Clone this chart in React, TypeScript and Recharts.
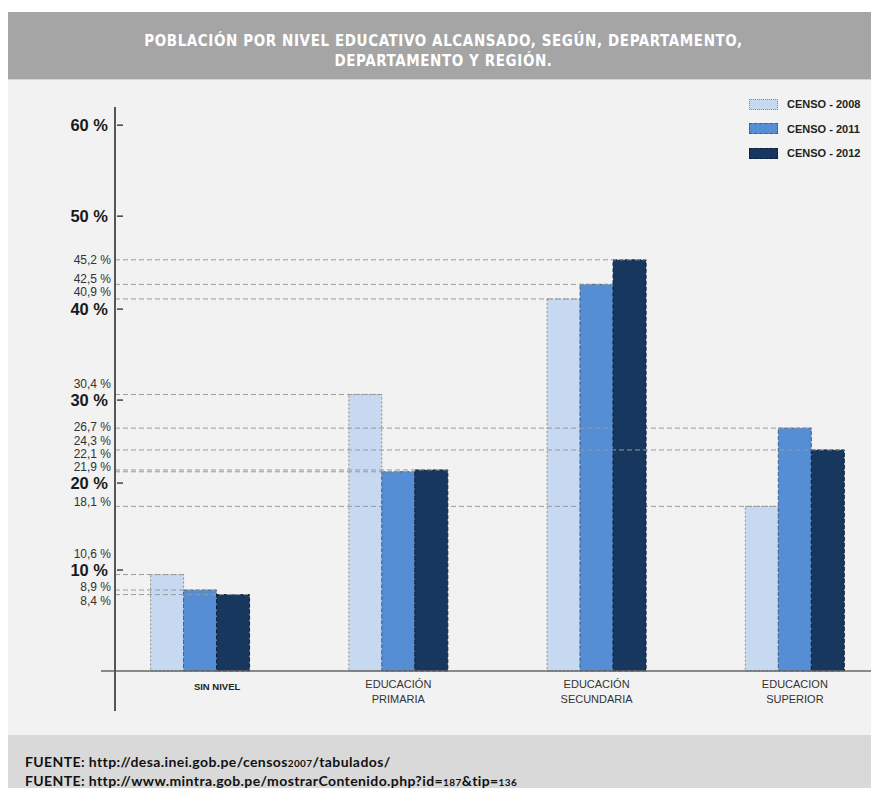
import { BarChart, Bar, XAxis, YAxis } from "recharts";

const CATEGORIES = ["SIN NIVEL", "EDUCACIÓN\nPRIMARIA", "EDUCACIÓN\nSECUNDARIA", "EDUCACION\nSUPERIOR"];
const CENSO_2008 = [10.6, 30.4, 40.9, 18.1];
const CENSO_2011 = [8.9, 21.9, 42.5, 26.7];
const CENSO_2012 = [8.4, 22.1, 45.2, 24.3];
const Y_TICKS = [10, 20, 30, 40, 50, 60];

const data = CATEGORIES.map((name, i) => ({
  name,
  c2008: CENSO_2008[i],
  c2011: CENSO_2011[i],
  c2012: CENSO_2012[i],
}));

// vertical nudges for crowded labels (value labels and axis tick labels)
const labelNudge: Record<string, number> = {
  "42.5": -6,
  "40.9": -7,
  "30.4": -11,
  "26.7": -1,
  "24.3": -9,
  "22.1": -16,
  "21.9": -5,
  "18.1": -5,
  "10.6": -21,
  "8.9": -3,
  "8.4": 6,
};
const tickNudge: Record<number, number> = { 10: -10, 20: -6, 30: 2, 40: 2 };

const SERIES = [
  { key: "c2008", name: "CENSO - 2008", fill: "#c6d9f1", stroke: "#8c8c8c", dash: "2 2" },
  { key: "c2011", name: "CENSO - 2011", fill: "#558ed5", stroke: "#3d5f8a", dash: "4 2" },
  { key: "c2012", name: "CENSO - 2012", fill: "#17375e", stroke: "#0e2038", dash: "4 2" },
];

const AXIS_X = 107;
const FONT = "'Liberation Sans', Arial, sans-serif";

const fmt = (v: number) => `${v.toString().replace(".", ",")} %`;

function makeShape(s: (typeof SERIES)[number]) {
  return (props: any) => {
    const { x, y, width, height, payload } = props;
    const v = payload[s.key] as number;
    const ny = labelNudge[String(v)] || 0;
    return (
      <g>
        <rect x={x} y={y} width={width} height={height} fill={s.fill} stroke={s.stroke} strokeDasharray={s.dash} strokeWidth={1} />
        <line x1={AXIS_X} x2={x + width} y1={y} y2={y} stroke="#9a9a9a" strokeDasharray="5 3" strokeWidth={1} />
        <text x={103} y={y + ny} dy={4.3} textAnchor="end" fontSize={12} fontFamily={FONT} fill="#333">
          {fmt(v)}
        </text>
      </g>
    );
  };
}

const YTick = (props: any) => {
  const { y, payload } = props;
  const ny = tickNudge[payload.value] || 0;
  return (
    <g>
      <text x={100} y={y + ny} dy={6} textAnchor="end" fontSize={16.5} fontWeight="bold" fontFamily={FONT} fill="#1a1a1a">
        {payload.value} %
      </text>
      <line x1={109} x2={115} y1={y + ny} y2={y + ny} stroke="#444" strokeWidth={1.5} />
    </g>
  );
};

const XTick = (props: any) => {
  const { x, y, payload } = props;
  const lines = String(payload.value).split("\n");
  if (lines.length === 1) {
    return (
      <text x={x + 17} y={y + 11} textAnchor="middle" fontSize={9.5} fontWeight="bold" fontFamily={FONT} fill="#222">
        {lines[0]}
      </text>
    );
  }
  return (
    <text x={x} y={y + 9} textAnchor="middle" fontSize={11} fontFamily={FONT} fill="#333">
      {lines.map((l, i) => (
        <tspan key={i} x={x} dy={i === 0 ? 0 : 15}>
          {l}
        </tspan>
      ))}
    </text>
  );
};

export default function App() {
  return (
    <div style={{ width: 871, paddingTop: 4, marginBottom: -8 }}>
      <div
        style={{
          background: "#a5a5a5",
          height: 68,
          borderBottom: "1px solid #d4d4d4",
          color: "#fff",
          fontFamily: "'DejaVu Sans Condensed', 'DejaVu Sans', sans-serif",
          fontWeight: "bold",
          fontSize: 15,
          letterSpacing: 0.6,
          lineHeight: "20px",
          textAlign: "center",
          paddingTop: 19,
          boxSizing: "border-box",
        }}
      >
        POBLACIÓN POR NIVEL EDUCATIVO ALCANSADO, SEGÚN, DEPARTAMENTO,
        <br />
        DEPARTAMENTO Y REGIÓN.
      </div>
      <div style={{ position: "relative", height: 655, background: "#f2f2f2", overflow: "hidden" }}>
        <div style={{ position: "absolute", left: 0, top: 0 }}>
          <BarChart
            width={886}
            height={655}
            data={data}
            margin={{ top: 27, right: 0, bottom: 24, left: 13 }}
            barCategoryGap="25%"
            barGap={0}
          >
            <XAxis
              dataKey="name"
              height={40}
              interval={0}
              axisLine={{ stroke: "#666", strokeWidth: 1.5 }}
              tickLine={false}
              tick={<XTick />}
            />
            <YAxis
              width={80}
              domain={[0, 62]}
              ticks={Y_TICKS}
              axisLine={false}
              tickLine={false}
              tick={<YTick />}
            />
            {SERIES.map((s) => (
              <Bar key={s.key} dataKey={s.key} name={s.name} fill={s.fill} shape={makeShape(s)} isAnimationActive={false} />
            ))}
          </BarChart>
        </div>
        <div style={{ position: "absolute", left: AXIS_X - 1, top: 27, width: 2, height: 604, background: "#555" }} />
        <div style={{ position: "absolute", left: 741, top: 12, fontFamily: FONT }}>
          {SERIES.map((s) => (
            <div key={s.key} style={{ display: "flex", alignItems: "center", height: 24.5 }}>
              <div
                style={{
                  width: 27,
                  height: 9,
                  background: s.fill,
                  border: `1px ${s.key === "c2008" ? "dotted" : "dashed"} ${s.stroke}`,
                }}
              />
              <span style={{ marginLeft: 9, fontSize: 11, fontWeight: "bold", color: "#222" }}>{s.name}</span>
            </div>
          ))}
        </div>
      </div>
      <div
        style={{
          background: "#d9d9d9",
          height: 61,
          boxSizing: "border-box",
          paddingTop: 18,
          paddingLeft: 17,
          fontFamily: "Lato, 'DejaVu Sans', sans-serif",
          fontWeight: "bold",
          fontSize: 14,
          letterSpacing: 0.4,
          lineHeight: "17px",
          color: "#111",
        }}
      >
        <div>
          FUENTE: http://desa.inei.gob.pe/censos<span style={{ fontSize: 10 }}>2007</span>/tabulados/
        </div>
        <div>
          FUENTE: http://www.mintra.gob.pe/mostrarContenido.php?id=<span style={{ fontSize: 10 }}>187</span>&amp;tip=
          <span style={{ fontSize: 10 }}>136</span>
        </div>
      </div>
    </div>
  );
}
